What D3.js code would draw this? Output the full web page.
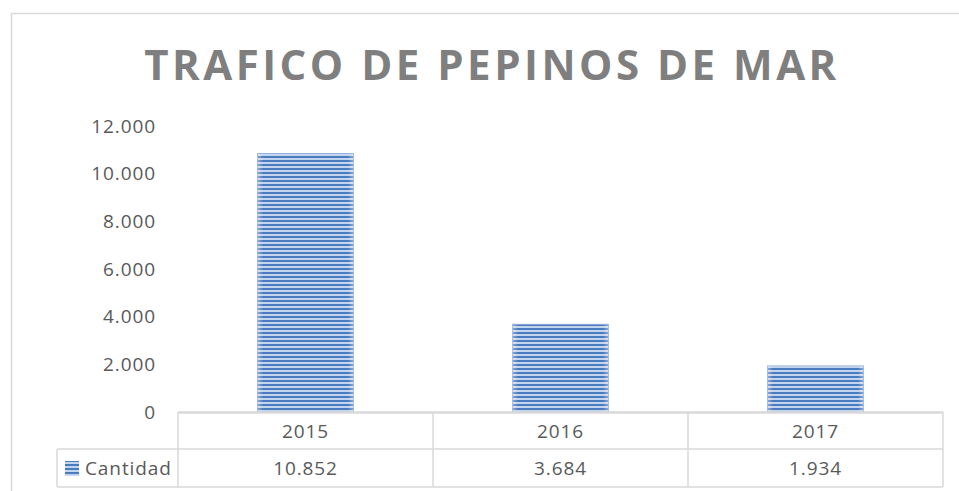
<!DOCTYPE html>
<html><head><meta charset="utf-8">
<script src="https://cdn.jsdelivr.net/npm/d3@7"></script>
<style>html,body{margin:0;padding:0;background:#fff;}svg{display:block;}</style>
</head><body>
<script>
const title = "TRAFICO DE PEPINOS DE MAR";
const categories = ["2015", "2016", "2017"];
const seriesName = "Cantidad";
const values = [10852, 3684, 1934];
const valueLabels = ["10.852", "3.684", "1.934"];
const yTicks = [0, 2000, 4000, 6000, 8000, 10000, 12000];

(function () {
const W = 959, H = 491;
const svg = d3.select("body").append("svg").attr("width", W).attr("height", H);
const defs = svg.append("defs");
const pat = defs.append("pattern").attr("id", "stripes").attr("patternUnits", "userSpaceOnUse")
  .attr("width", 8).attr("height", 4);
pat.append("rect").attr("width", 8).attr("height", 4).attr("fill", "#c3d4ee");
pat.append("rect").attr("y", 0).attr("width", 8).attr("height", 2).attr("fill", "#4a7bbf");
const grad = defs.append("linearGradient").attr("id", "edge").attr("x1", 0).attr("x2", 1);
grad.append("stop").attr("offset", 0).attr("stop-color", "#fff").attr("stop-opacity", 0.35);
grad.append("stop").attr("offset", 0.06).attr("stop-color", "#fff").attr("stop-opacity", 0);
grad.append("stop").attr("offset", 0.94).attr("stop-color", "#fff").attr("stop-opacity", 0);
grad.append("stop").attr("offset", 1).attr("stop-color", "#fff").attr("stop-opacity", 0.35);

svg.append("path").attr("d", `M11.5,${H} V13.5 H${W}`).attr("fill", "none")
  .attr("stroke", "#d9d9d9").attr("stroke-width", 1.5);

svg.append("text").attr("x", 492).attr("y", 80).attr("text-anchor", "middle")
  .attr("font-family", "'Open Sans', sans-serif").attr("font-weight", "bold")
  .attr("font-size", 42).attr("letter-spacing", 3.5).attr("fill", "#7f7f7f").text(title);

const pLeft = 178, pRight = 943, pTop = 126, pBottom = 412;
const x = d3.scaleBand().domain(categories).range([pLeft, pRight]).paddingInner(0).paddingOuter(0);
const y = d3.scaleLinear().domain([0, 12000]).range([pBottom, pTop]);
const fmt = d3.formatLocale({decimal: ",", thousands: ".", grouping: [3], currency: ["", ""]}).format(",.0f");

const font = "'Open Sans', sans-serif";
const fs = 19, ls = 0.9, col = "#595959";
const yAxis = svg.append("g").attr("transform", `translate(${pLeft},0)`)
  .call(d3.axisLeft(y).tickValues(yTicks).tickFormat(fmt).tickSize(0).tickPadding(22));
yAxis.select(".domain").remove();
yAxis.selectAll("text").attr("font-family", font).attr("font-size", fs)
  .attr("letter-spacing", ls).attr("fill", col);

const barW = 96;
svg.append("g").selectAll("rect").data(values).join("rect")
  .attr("x", (d, i) => x(categories[i]) + x.bandwidth() / 2 - barW / 2)
  .attr("y", d => y(d)).attr("width", barW).attr("height", d => pBottom - y(d))
  .attr("fill", "url(#stripes)");
svg.append("g").selectAll("rect").data(values).join("rect")
  .attr("x", (d, i) => x(categories[i]) + x.bandwidth() / 2 - barW / 2)
  .attr("y", d => y(d)).attr("width", barW).attr("height", d => pBottom - y(d))
  .attr("fill", "url(#edge)").attr("stroke", "#9db6de").attr("stroke-width", 0.8);

const row1 = 449, row2 = 487, tblLeft = 57;
const g = svg.append("g").attr("stroke", "#d9d9d9").attr("stroke-width", 1.5).attr("fill", "none");
g.append("line").attr("x1", pLeft).attr("x2", pRight).attr("y1", pBottom + 0.5).attr("y2", pBottom + 0.5).attr("stroke-width", 2.5);
g.append("line").attr("x1", tblLeft).attr("x2", pRight).attr("y1", row1).attr("y2", row1);
g.append("line").attr("x1", tblLeft).attr("x2", pRight).attr("y1", row2).attr("y2", row2);
g.append("line").attr("x1", tblLeft).attr("x2", tblLeft).attr("y1", row1).attr("y2", row2);
[pLeft, ...categories.map(c => x(c) + x.bandwidth())].forEach(xx => {
  g.append("line").attr("x1", xx).attr("x2", xx).attr("y1", pBottom).attr("y2", row2);
});

svg.append("g").selectAll("text").data(categories).join("text")
  .attr("x", d => x(d) + x.bandwidth() / 2).attr("y", 438).attr("text-anchor", "middle")
  .attr("font-family", font).attr("font-size", fs).attr("letter-spacing", ls).attr("fill", col).text(d => d);
svg.append("g").selectAll("text").data(valueLabels).join("text")
  .attr("x", (d, i) => x(categories[i]) + x.bandwidth() / 2).attr("y", 475).attr("text-anchor", "middle")
  .attr("font-family", font).attr("font-size", fs).attr("letter-spacing", ls).attr("fill", col).text(d => d);

svg.append("rect").attr("x", 65).attr("y", 461).attr("width", 14).attr("height", 15).attr("fill", "url(#stripes)");
svg.append("text").attr("x", 85).attr("y", 475).attr("font-family", font).attr("font-size", fs)
  .attr("letter-spacing", ls).attr("fill", col).text(seriesName);
})();
</script>
</body></html>
